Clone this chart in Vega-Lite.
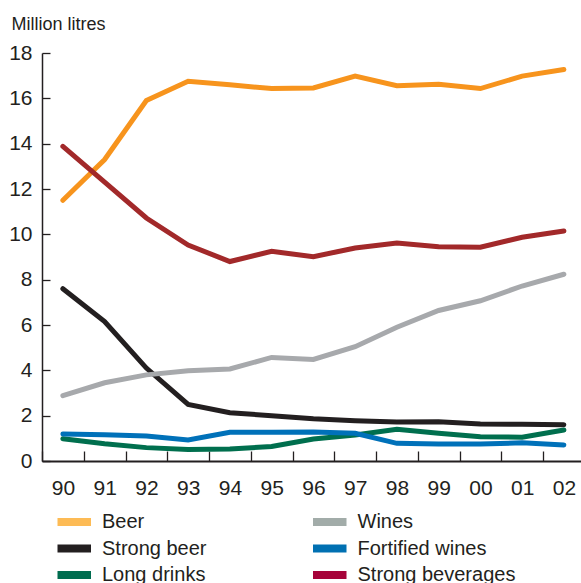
{
  "$schema": "https://vega.github.io/schema/vega-lite/v6.json",
  "autosize": {"type": "none"},
  "padding": {"left": 42, "top": 53, "right": 0, "bottom": 122},
  "width": 539,
  "height": 408,
  "background": "#ffffff",
  "config": {
    "view": {"stroke": null},
    "font": "Liberation Sans",
    "axis": {"labelColor": "#231f20", "titleColor": "#231f20", "domainColor": "#231f20", "tickColor": "#231f20", "grid": false}
  },
  "data": {
    "values": [
      {"yr": 1990, "series": "Beer", "v": 11.5},
      {"yr": 1991, "series": "Beer", "v": 13.3},
      {"yr": 1992, "series": "Beer", "v": 15.9},
      {"yr": 1993, "series": "Beer", "v": 16.75},
      {"yr": 1994, "series": "Beer", "v": 16.6},
      {"yr": 1995, "series": "Beer", "v": 16.43},
      {"yr": 1996, "series": "Beer", "v": 16.46},
      {"yr": 1997, "series": "Beer", "v": 16.98},
      {"yr": 1998, "series": "Beer", "v": 16.56},
      {"yr": 1999, "series": "Beer", "v": 16.62},
      {"yr": 2000, "series": "Beer", "v": 16.43},
      {"yr": 2001, "series": "Beer", "v": 16.98},
      {"yr": 2002, "series": "Beer", "v": 17.27},
      {"yr": 1990, "series": "Strong beer", "v": 7.6},
      {"yr": 1991, "series": "Strong beer", "v": 6.15},
      {"yr": 1992, "series": "Strong beer", "v": 4.1},
      {"yr": 1993, "series": "Strong beer", "v": 2.5},
      {"yr": 1994, "series": "Strong beer", "v": 2.13},
      {"yr": 1995, "series": "Strong beer", "v": 2.0},
      {"yr": 1996, "series": "Strong beer", "v": 1.86},
      {"yr": 1997, "series": "Strong beer", "v": 1.78},
      {"yr": 1998, "series": "Strong beer", "v": 1.72},
      {"yr": 1999, "series": "Strong beer", "v": 1.73},
      {"yr": 2000, "series": "Strong beer", "v": 1.63},
      {"yr": 2001, "series": "Strong beer", "v": 1.62},
      {"yr": 2002, "series": "Strong beer", "v": 1.6},
      {"yr": 1990, "series": "Long drinks", "v": 0.98},
      {"yr": 1991, "series": "Long drinks", "v": 0.76},
      {"yr": 1992, "series": "Long drinks", "v": 0.59},
      {"yr": 1993, "series": "Long drinks", "v": 0.51},
      {"yr": 1994, "series": "Long drinks", "v": 0.53},
      {"yr": 1995, "series": "Long drinks", "v": 0.64},
      {"yr": 1996, "series": "Long drinks", "v": 0.97},
      {"yr": 1997, "series": "Long drinks", "v": 1.15},
      {"yr": 1998, "series": "Long drinks", "v": 1.4},
      {"yr": 1999, "series": "Long drinks", "v": 1.22},
      {"yr": 2000, "series": "Long drinks", "v": 1.07},
      {"yr": 2001, "series": "Long drinks", "v": 1.05},
      {"yr": 2002, "series": "Long drinks", "v": 1.37},
      {"yr": 1990, "series": "Wines", "v": 2.88},
      {"yr": 1991, "series": "Wines", "v": 3.45},
      {"yr": 1992, "series": "Wines", "v": 3.8},
      {"yr": 1993, "series": "Wines", "v": 3.98},
      {"yr": 1994, "series": "Wines", "v": 4.06},
      {"yr": 1995, "series": "Wines", "v": 4.57},
      {"yr": 1996, "series": "Wines", "v": 4.48},
      {"yr": 1997, "series": "Wines", "v": 5.04},
      {"yr": 1998, "series": "Wines", "v": 5.9},
      {"yr": 1999, "series": "Wines", "v": 6.64},
      {"yr": 2000, "series": "Wines", "v": 7.07},
      {"yr": 2001, "series": "Wines", "v": 7.72},
      {"yr": 2002, "series": "Wines", "v": 8.24},
      {"yr": 1990, "series": "Fortified wines", "v": 1.19},
      {"yr": 1991, "series": "Fortified wines", "v": 1.16},
      {"yr": 1992, "series": "Fortified wines", "v": 1.1},
      {"yr": 1993, "series": "Fortified wines", "v": 0.93},
      {"yr": 1994, "series": "Fortified wines", "v": 1.27},
      {"yr": 1995, "series": "Fortified wines", "v": 1.27},
      {"yr": 1996, "series": "Fortified wines", "v": 1.28},
      {"yr": 1997, "series": "Fortified wines", "v": 1.22},
      {"yr": 1998, "series": "Fortified wines", "v": 0.78},
      {"yr": 1999, "series": "Fortified wines", "v": 0.75},
      {"yr": 2000, "series": "Fortified wines", "v": 0.75},
      {"yr": 2001, "series": "Fortified wines", "v": 0.8},
      {"yr": 2002, "series": "Fortified wines", "v": 0.71},
      {"yr": 1990, "series": "Strong beverages", "v": 13.88},
      {"yr": 1991, "series": "Strong beverages", "v": 12.3},
      {"yr": 1992, "series": "Strong beverages", "v": 10.72},
      {"yr": 1993, "series": "Strong beverages", "v": 9.53},
      {"yr": 1994, "series": "Strong beverages", "v": 8.8},
      {"yr": 1995, "series": "Strong beverages", "v": 9.25},
      {"yr": 1996, "series": "Strong beverages", "v": 9.01},
      {"yr": 1997, "series": "Strong beverages", "v": 9.4},
      {"yr": 1998, "series": "Strong beverages", "v": 9.62},
      {"yr": 1999, "series": "Strong beverages", "v": 9.45},
      {"yr": 2000, "series": "Strong beverages", "v": 9.43},
      {"yr": 2001, "series": "Strong beverages", "v": 9.87},
      {"yr": 2002, "series": "Strong beverages", "v": 10.15}
    ]
  },
  "encoding": {
    "x": {
      "field": "yr",
      "type": "ordinal",
      "scale": {"type": "band", "paddingInner": 0, "paddingOuter": 0, "range": [0, 542.75]},
      "axis": {
        "title": null,
        "labelExpr": "substring(datum.label, 2)",
        "labelAngle": 0,
        "labelFontSize": 21,
        "labelPadding": 26,
        "tickBand": "extent",
        "tickSize": -10,
        "tickWidth": 1.3,
        "domainWidth": 2
      }
    },
    "y": {
      "field": "v",
      "type": "quantitative",
      "scale": {"domain": [0, 18], "nice": false, "zero": true},
      "axis": {
        "title": "Million litres",
        "titleAngle": 0,
        "titleAlign": "left",
        "titleBaseline": "alphabetic",
        "titleX": -31,
        "titleY": -24,
        "titleFontSize": 18,
        "titleFontWeight": "normal",
        "values": [0, 2, 4, 6, 8, 10, 12, 14, 16, 18],
        "format": "d",
        "labelFontSize": 21,
        "labelPadding": 18,
        "tickSize": -8,
        "tickWidth": 1.3,
        "domainWidth": 1.5
      }
    }
  },
  "layer": [
    {
      "mark": {"type": "line", "strokeWidth": 5, "strokeCap": "round"},
      "encoding": {
        "color": {
          "field": "series",
          "type": "nominal",
          "scale": {
            "domain": ["Beer", "Strong beer", "Long drinks", "Wines", "Fortified wines", "Strong beverages"],
            "range": ["#f7941d", "#231f20", "#006f4e", "#a7a9ac", "#0071b9", "#a2292a"]
          },
          "legend": null
        }
      }
    },
    {
      "mark": {"type": "line", "strokeWidth": 8, "opacity": 0},
      "encoding": {
        "color": {
          "field": "series",
          "type": "nominal",
          "scale": {
            "domain": ["Beer", "Strong beer", "Long drinks", "Wines", "Fortified wines", "Strong beverages"],
            "range": ["#fdbb55", "#231f20", "#006c4f", "#a2aca9", "#0070b2", "#a6033a"]
          },
          "legend": {
            "title": null,
            "orient": "none",
            "legendX": 15.5,
            "legendY": 457,
            "columns": 2,
            "padding": 0,
            "symbolType": "M-1.95,0H1.95",
            "symbolSize": 400,
            "symbolStrokeWidth": 8,
            "symbolOpacity": 1,
            "clipHeight": 24,
            "labelFontSize": 20,
            "labelColor": "#231f20",
            "labelOffset": 16.5,
            "columnPadding": 105.5,
            "rowPadding": 2.5,
            "labelLimit": 300
          }
        }
      }
    }
  ],
  "resolve": {"scale": {"color": "independent"}}
}
